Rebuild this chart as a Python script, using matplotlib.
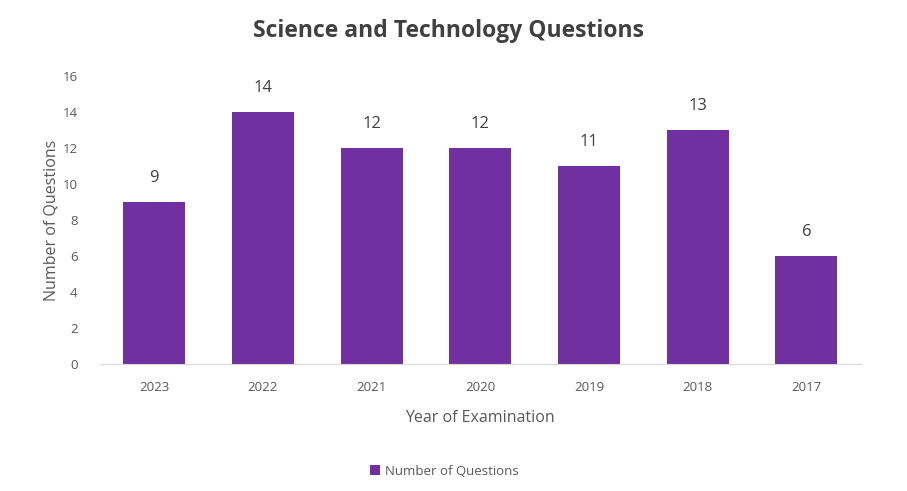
import matplotlib.pyplot as plt

years = ['2023', '2022', '2021', '2020', '2019', '2018', '2017']
questions = [9, 14, 12, 12, 11, 13, 6]
yticks = [0, 2, 4, 6, 8, 10, 12, 14, 16]

plt.rcParams['font.family'] = ['Open Sans', 'DejaVu Sans']
grey = '#595959'
purple = '#7030A0'

fig = plt.figure(figsize=(9.07, 4.91), dpi=100)
ax = fig.add_axes([0.110, 0.2587, 0.839, 0.5863])

bars = ax.bar(years, questions, width=0.57, color=purple, label='Number of Questions')
for b, v in zip(bars, questions):
    ax.text(b.get_x() + b.get_width() / 2, v + 0.9, str(v), ha='center', va='bottom',
            fontsize=12, color='#404040')

ax.set_ylim(0, 16)
ax.set_xlim(-0.5, len(years) - 0.5)
ax.set_yticks(yticks)
for s in ['top', 'right', 'left']:
    ax.spines[s].set_visible(False)
ax.spines['bottom'].set_color('#d9d9d9')
ax.tick_params(axis='both', length=0, labelcolor=grey, labelsize=9.5)
ax.tick_params(axis='x', pad=12)
ax.tick_params(axis='y', pad=16)

ax.set_xlabel('Year of Examination', fontsize=11.5, color=grey, labelpad=12)
ax.set_ylabel('Number of Questions', fontsize=11.5, color=grey, labelpad=2)
fig.suptitle('Science and Technology Questions', x=0.494, y=0.962, fontsize=16.5,
             fontweight='bold', color='#404040')

fig.legend(loc='center', bbox_to_anchor=(0.49, 0.04), frameon=False, fontsize=9.5,
           handlelength=0.8, handleheight=0.8, labelcolor=grey, handletextpad=0.4)

fig.savefig('out.png', dpi=100)
